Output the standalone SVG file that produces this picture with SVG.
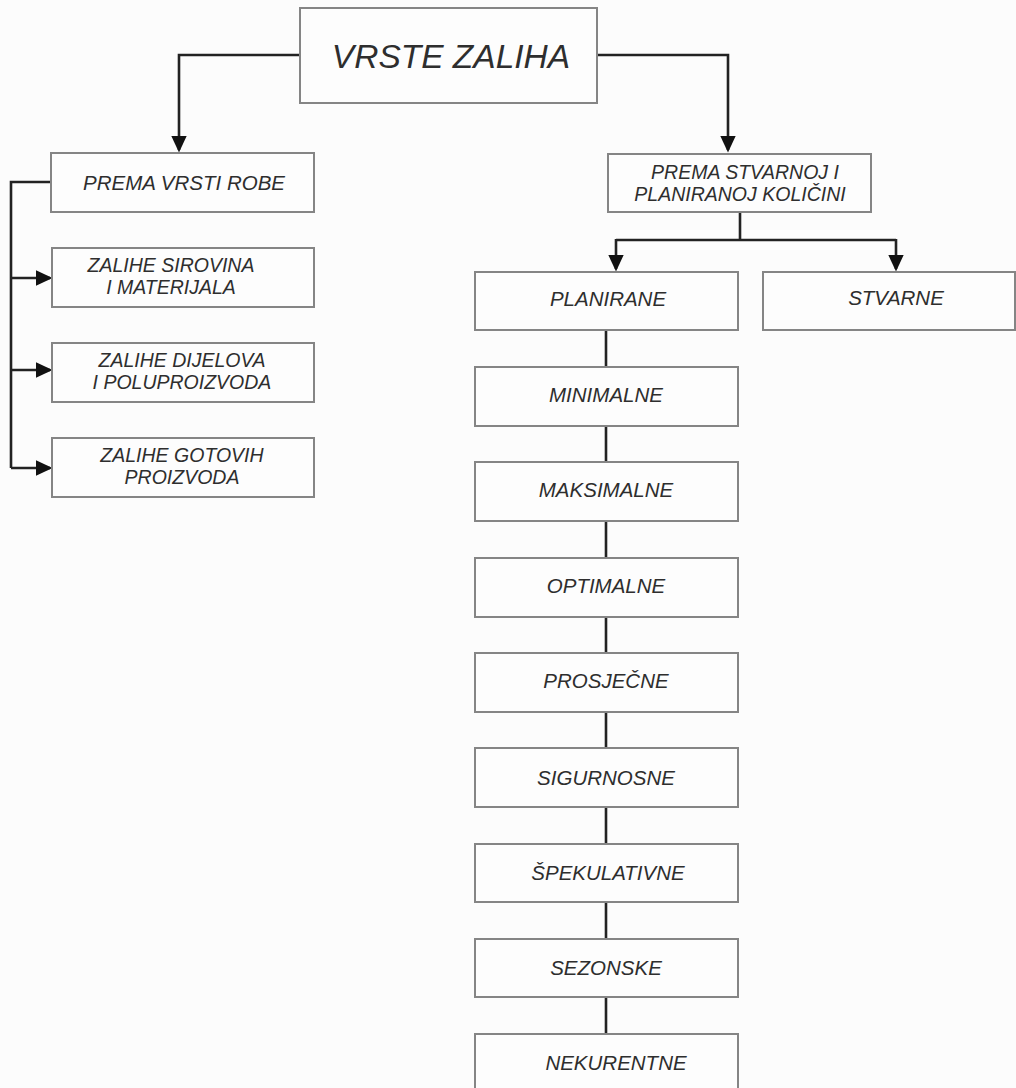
<svg xmlns="http://www.w3.org/2000/svg" width="1016" height="1088" viewBox="0 0 1016 1088">
<style>
.bg{fill:#fcfcfc}
.box{fill:#fdfdfd;stroke:#858585;stroke-width:2}
.t{font-family:"Liberation Sans",Arial,sans-serif;font-style:italic;fill:#2e2e2e;text-anchor:middle;font-size:20.5px}
.s{font-size:19.5px}
.big{font-size:33.5px}
.c{fill:none;stroke:#222;stroke-width:2.6}
</style>
<defs>
<marker id="ah" markerWidth="6.5" markerHeight="6" refX="5.5" refY="3" orient="auto" markerUnits="strokeWidth">
<path d="M0,0 L6.5,3 L0,6 Z" fill="#111"/>
</marker>
</defs>
<rect class="bg" x="0" y="0" width="1016" height="1088"/>
<g id="connectors">
<path class="c" d="M300,55 H179 V150" marker-end="url(#ah)"/>
<path class="c" d="M597,55 H728 V150" marker-end="url(#ah)"/>
<path class="c" d="M51,182 H11 V468"/>
<path class="c" d="M11,278 H50" marker-end="url(#ah)"/>
<path class="c" d="M11,370 H50" marker-end="url(#ah)"/>
<path class="c" d="M11,468 H50" marker-end="url(#ah)"/>
<path class="c" d="M740,212 V240"/>
<path class="c" d="M616,240 H896"/>
<path class="c" d="M616,239 V269" marker-end="url(#ah)"/>
<path class="c" d="M896,239 V269" marker-end="url(#ah)"/>
<path class="c" d="M606,330 V367 M606,426 V462 M606,521 V558 M606,617 V653 M606,712 V748 M606,807 V844 M606,902 V939 M606,997 V1034"/>
</g>
<g id="vrste-zaliha"><rect class="box" x="300" y="8" width="297" height="95"/><text class="t big" x="451" y="68">VRSTE ZALIHA</text></g>
<g id="prema-vrsti-robe"><rect class="box" x="51" y="153" width="263" height="59"/><text class="t" x="184" y="190">PREMA VRSTI ROBE</text></g>
<g id="zalihe-sirovina"><rect class="box" x="52" y="248" width="262" height="59"/><text class="t s" x="171" y="272">ZALIHE SIROVINA</text><text class="t s" x="171" y="294">I MATERIJALA</text></g>
<g id="zalihe-dijelova"><rect class="box" x="52" y="343" width="262" height="59"/><text class="t s" x="182" y="367">ZALIHE DIJELOVA</text><text class="t s" x="182" y="389">I POLUPROIZVODA</text></g>
<g id="zalihe-gotovih"><rect class="box" x="52" y="438" width="262" height="59"/><text class="t s" x="182" y="462">ZALIHE GOTOVIH</text><text class="t s" x="182" y="484">PROIZVODA</text></g>
<g id="prema-stvarnoj"><rect class="box" x="608" y="154" width="263" height="58"/><text class="t s" x="745" y="179">PREMA STVARNOJ I</text><text class="t s" x="740" y="201">PLANIRANOJ KOLIČINI</text></g>
<g id="stvarne"><rect class="box" x="763" y="272" width="252" height="58"/><text class="t" x="896" y="305">STVARNE</text></g>
<g id="planirane"><rect class="box" x="475" y="272" width="263" height="58"/><text class="t" x="608" y="306">PLANIRANE</text></g>
<g id="minimalne"><rect class="box" x="475" y="367" width="263" height="59"/><text class="t" x="606" y="402">MINIMALNE</text></g>
<g id="maksimalne"><rect class="box" x="475" y="462" width="263" height="59"/><text class="t" x="606" y="497">MAKSIMALNE</text></g>
<g id="optimalne"><rect class="box" x="475" y="558" width="263" height="59"/><text class="t" x="606" y="593">OPTIMALNE</text></g>
<g id="prosjecne"><rect class="box" x="475" y="653" width="263" height="59"/><text class="t" x="606" y="688">PROSJEČNE</text></g>
<g id="sigurnosne"><rect class="box" x="475" y="748" width="263" height="59"/><text class="t" x="606" y="785">SIGURNOSNE</text></g>
<g id="spekulativne"><rect class="box" x="475" y="844" width="263" height="58"/><text class="t" x="608" y="880">ŠPEKULATIVNE</text></g>
<g id="sezonske"><rect class="box" x="475" y="939" width="263" height="58"/><text class="t" x="606" y="975">SEZONSKE</text></g>
<g id="nekurentne"><rect class="box" x="475" y="1034" width="263" height="60"/><text class="t" x="616" y="1070">NEKURENTNE</text></g>
</svg>
